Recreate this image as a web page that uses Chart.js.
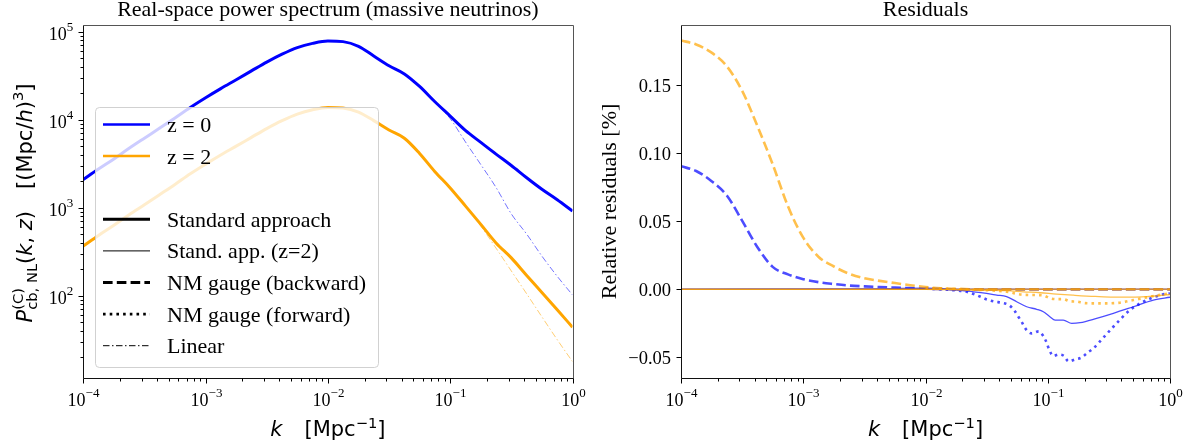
<!DOCTYPE html>
<html>
<head>
<meta charset="utf-8">
<script src="https://cdn.jsdelivr.net/npm/chart.js@4.4.1/dist/chart.umd.min.js"></script>
<style>
  html, body { margin: 0; padding: 0; background: #fff; }
  #wrap { position: relative; width: 1195px; height: 446px; overflow: hidden; }
  canvas { position: absolute; top: 0; }
</style>
</head>
<body>
<div id="wrap">
  <canvas id="left" width="600" height="446" style="left:0"></canvas>
  <canvas id="right" width="595" height="446" style="left:600px"></canvas>
</div>
<script>
// ------------------------------- DATA

// left panel: k in Mpc^-1, P in (Mpc/h)^3
var kGrid = [1.00e-4, 1.33e-4, 1.78e-4, 2.37e-4, 3.16e-4, 4.22e-4, 5.62e-4, 7.50e-4,
             1.00e-3, 1.33e-3, 1.78e-3, 2.37e-3, 3.16e-3, 4.22e-3, 5.62e-3, 7.50e-3,
             1.00e-2, 1.33e-2, 1.78e-2, 2.37e-2, 3.16e-2, 4.22e-2, 5.62e-2, 7.50e-2,
             0.100, 0.133, 0.178, 0.237, 0.316, 0.422, 0.562, 0.750, 1.00]
var pZ0 = [2090, 2750, 3590, 4730, 6170, 8040, 10500, 13800, 17800, 22600, 28500, 35900,
           45200, 55600, 66100, 73800, 78500, 77300, 68400, 53100, 41100, 33200, 23900,
           16000, 11000, 7570, 5530, 4070, 3020, 2190, 1620, 1230, 916]
var pZ0Lin = [2090, 2750, 3590, 4730, 6170, 8040, 10500, 13800, 17800, 22600, 28500, 35900,
              45200, 55600, 66100, 73800, 78500, 77300, 68400, 53100, 41100, 33200, 23900,
              15900, 10300, 5620, 3090, 1700, 851, 501, 282, 166, 102]
var pZ2 = [367, 484, 631, 832, 1080, 1410, 1840, 2430, 3130, 3980, 5010, 6310, 7940, 9770,
           11600, 13000, 13800, 13600, 12200, 9770, 7640, 6170, 4140, 2570, 1680, 1050,
           646, 398, 269, 170, 109, 69.2, 43.8]
var pZ2Lin = [367, 484, 631, 832, 1080, 1410, 1840, 2430, 3130, 3980, 5010, 6310, 7940, 9770,
              11600, 13000, 13800, 13600, 12200, 9770, 7640, 6170, 4140, 2570, 1680, 1050,
              617, 347, 191, 105, 57.5, 31.6, 17.8]

// right panel: relative residuals [%]
var kStd = [1e-4, 1]
var resStd = [0, 0]

var kBack = [1.00e-4, 1.33e-4, 1.78e-4, 2.37e-4, 3.16e-4, 4.22e-4, 5.62e-4, 7.50e-4,
             1.00e-3, 1.33e-3, 1.78e-3, 2.37e-3, 3.16e-3, 4.22e-3, 5.62e-3, 7.50e-3,
             1.00e-2, 1.33e-2, 1.78e-2, 2.37e-2, 3.16e-2, 0.100, 0.316, 1.00]
var resBackZ0 = [0.0905, 0.0870, 0.0795, 0.0690, 0.0505, 0.0310, 0.0165, 0.0110, 0.0075,
                 0.0053, 0.0039, 0.0028, 0.0022, 0.0017, 0.0013, 0.0009, 0.0005, 0.0002,
                 0, 0, 0, 0, 0, 0]
var resBackZ2 = [0.183, 0.180, 0.174, 0.164, 0.146, 0.120, 0.092, 0.061, 0.038, 0.024,
                 0.0168, 0.0115, 0.0081, 0.0062, 0.0046, 0.0030, 0.0017, 0.0008, 0.0004,
                 0.0001, 0, 0, 0, 0]

var kFwdZ0 = [0.0100, 0.0133, 0.0178, 0.0217, 0.0251, 0.0282, 0.0316, 0.0372, 0.0417,
              0.0479, 0.0530, 0.0575, 0.0617, 0.0664, 0.0740, 0.0843, 0.0920, 0.0979,
              0.103, 0.111, 0.122, 0.136, 0.148, 0.167, 0.190, 0.211, 0.236, 0.282,
              0.344, 0.471, 0.646, 0.881, 1.00]
var resFwdZ0 = [0.0005, 0, -0.0008, -0.0018, -0.0037, -0.0055, -0.0074, -0.0091, -0.0098,
                -0.0115, -0.0152, -0.0201, -0.0245, -0.0294, -0.0324, -0.0309, -0.0343,
                -0.0392, -0.0446, -0.0490, -0.0480, -0.0490, -0.0530, -0.0515, -0.0500,
                -0.0466, -0.0434, -0.0360, -0.0275, -0.0152, -0.0079, -0.0037, -0.0030]

var kFwdZ2 = [0.0100, 0.0178, 0.0251, 0.0297, 0.0461, 0.0631, 0.0813, 0.0920, 0.104,
              0.118, 0.134, 0.152, 0.173, 0.195, 0.222, 0.303, 0.390, 0.501, 0.646,
              0.881, 1.00]
var resFwdZ2 = [0.0010, 0.0002, -0.0003, -0.0005, -0.0018, -0.0040, -0.0042, -0.0045,
                -0.0065, -0.0072, -0.0072, -0.0088, -0.0090, -0.0100, -0.0103, -0.0103,
                -0.0098, -0.0079, -0.0059, -0.0037, -0.0030]

var kAppZ0 = [1e-4, 0.00316, 0.0100, 0.0133, 0.0178, 0.0247, 0.0316, 0.0382, 0.0461,
              0.0557, 0.0673, 0.0813, 0.0920, 0.104, 0.115, 0.134, 0.157, 0.184, 0.251,
              0.344, 0.501, 0.731, 1.00]
var resAppZ0 = [0, 0.0003, 0.0008, 0.0006, -0.0005, -0.0018, -0.0030, -0.0042, -0.0054,
                -0.0091, -0.0128, -0.0147, -0.0165, -0.0201, -0.0226, -0.0226, -0.0250,
                -0.0245, -0.0213, -0.0176, -0.0128, -0.0079, -0.0058]

var kAppZ2 = [1e-4, 0.0100, 0.0178, 0.0316, 0.0461, 0.0631, 0.0865, 0.118, 0.162, 0.244,
              0.344, 0.501, 0.646, 0.794, 1.00]
var resAppZ2 = [0, 0, -0.0003, -0.0007, -0.0010, -0.0018, -0.0025, -0.0035, -0.0043,
                -0.0052, -0.0057, -0.0057, -0.0053, -0.0047, -0.0038]

var xDecades = [-4, -3, -2, -1, 0]
var yDecadesLeft = [2, 3, 4, 5]
var yTicksRight = [-0.05, 0, 0.05, 0.10, 0.15]
var legendLabels = ['z = 0', 'z = 2', '', 'Standard approach', 'Stand. app. (z=2)',
                    'NM gauge (backward)', 'NM gauge (forward)', 'Linear']

// ------------------------------- HELPERS

var SERIF = '"Liberation Serif", "Times New Roman", serif'
var SANS = '"DejaVu Sans", sans-serif'
var BLUE = '#0000ff'
var ORANGE = '#ffa500'
var BLUE_A = 'rgba(0,0,255,0.7)'
var ORANGE_A = 'rgba(255,165,0,0.7)'
var DASH = [9.6, 4.2]
var DOT = [2.6, 4.1]
var DASHDOT = [6.5, 2.5, 1.5, 2.5]

function pts(ks, vs) {
    return ks.map(function (k, i) { return { x: k, y: vs[i] } })
}

function line(data, color, width, dash) {
    return {
        data: data,
        borderColor: color,
        borderWidth: width,
        borderDash: dash || [],
        borderCapStyle: 'butt',
        borderJoinStyle: 'round',
        pointRadius: 0,
        fill: false,
        cubicInterpolationMode: 'monotone'
    }
}

// draws a row of text pieces, pieces: {t, font, dy, keep}
function richWidth(ctx, parts) {
    var w = 0, kept = 0
    parts.forEach(function (p) {
        if (p.gap) { w += p.gap; return }
        ctx.font = p.font
        var pw = ctx.measureText(p.t).width
        if (p.keep) { kept = pw; return }
        w += Math.max(pw, kept)
        kept = 0
    })
    return w
}

function richDraw(ctx, x0, y, parts) {
    var x = x0, kept = 0
    ctx.textAlign = 'left'
    ctx.textBaseline = 'alphabetic'
    parts.forEach(function (p) {
        if (p.gap) { x += p.gap; return }
        ctx.font = p.font
        var pw = ctx.measureText(p.t).width
        ctx.fillText(p.t, x, y + (p.dy || 0))
        if (p.keep) { kept = pw; return }
        x += Math.max(pw, kept)
        kept = 0
    })
}

function richCentered(ctx, cx, y, parts) {
    richDraw(ctx, cx - richWidth(ctx, parts) / 2, y, parts)
}

function powLabel(ctx, x, y, exp, align) {
    var parts = [
        { t: '10', font: '18px ' + SERIF },
        { t: (exp < 0 ? '\u2212' : '') + Math.abs(exp), font: '13px ' + SERIF, dy: -9 }
    ]
    var w = richWidth(ctx, parts)
    var x0 = align == 'right' ? x - w : x - w / 2
    richDraw(ctx, x0, y, parts)
}

function kLabelParts() {
    return [
        { t: 'k', font: 'italic 21px ' + SANS },
        { gap: 22 },
        { t: '[Mpc', font: '21px ' + SANS },
        { t: '\u22121', font: '14.7px ' + SANS, dy: -8.5 },
        { t: ']', font: '21px ' + SANS }
    ]
}

function frameAndXTicks(ctx, chart) {
    var a = chart.chartArea, xs = chart.scales.x
    var l = Math.round(a.left) + 0.5, t = Math.round(a.top) + 0.5
    var r = Math.round(a.right) + 0.5, b = Math.round(a.bottom) + 0.5
    ctx.lineWidth = 1
    ctx.setLineDash([])
    // top / right spines look a bit lighter in the original
    ctx.strokeStyle = '#555'
    ctx.beginPath(); ctx.moveTo(l, t); ctx.lineTo(r, t); ctx.lineTo(r, b); ctx.stroke()
    ctx.strokeStyle = '#111'
    ctx.beginPath(); ctx.moveTo(l, t); ctx.lineTo(l, b); ctx.lineTo(r, b); ctx.stroke()
    ctx.fillStyle = '#000'
    ctx.strokeStyle = '#000'
    xDecades.forEach(function (d) {
        var px = Math.round(xs.getPixelForValue(Math.pow(10, d))) + 0.5
        ctx.beginPath(); ctx.moveTo(px, b); ctx.lineTo(px, b + 5); ctx.stroke()
        powLabel(ctx, px, a.bottom + 28, d, 'center')
        if (d < 0) {
            for (var m = 2; m <= 9; m++) {
                var mx = Math.round(xs.getPixelForValue(m * Math.pow(10, d))) + 0.5
                ctx.beginPath(); ctx.moveTo(mx, b); ctx.lineTo(mx, b + 3); ctx.stroke()
            }
        }
    })
    richCentered(ctx, (a.left + a.right) / 2, a.bottom + 58, kLabelParts())
}

// ------------------------------- PLUGINS

var leftAxes = {
    id: 'leftAxes',
    afterDraw: function (chart) {
        var ctx = chart.ctx, a = chart.chartArea, ys = chart.scales.y
        ctx.save()
        frameAndXTicks(ctx, chart)
        var xl = Math.round(a.left) + 0.5
        yDecadesLeft.forEach(function (d) {
            var py = Math.round(ys.getPixelForValue(Math.pow(10, d))) + 0.5
            ctx.beginPath(); ctx.moveTo(xl, py); ctx.lineTo(xl - 5, py); ctx.stroke()
            powLabel(ctx, a.left - 10, py + 7, d, 'right')
        })
        for (var d = 1; d <= 5; d++) {
            for (var m = 2; m <= 9; m++) {
                var v = m * Math.pow(10, d)
                if (v < ys.min || v > ys.max) continue
                var my = Math.round(ys.getPixelForValue(v)) + 0.5
                ctx.beginPath(); ctx.moveTo(xl, my); ctx.lineTo(xl - 3, my); ctx.stroke()
            }
        }
        // title
        ctx.font = '22px ' + SERIF
        ctx.textAlign = 'center'
        ctx.fillText('Real-space power spectrum (massive neutrinos)', (a.left + a.right) / 2, a.top - 8.5)
        // y label
        ctx.translate(32, 203)
        ctx.rotate(-Math.PI / 2)
        var it = 'italic 21px ' + SANS, rm = '21px ' + SANS, sc = '14.7px ' + SANS
        richCentered(ctx, 0, 0, [
            { t: 'P', font: it },
            { t: '(C)', font: sc, dy: -9.5, keep: true },
            { t: 'cb, NL', font: sc, dy: 5 },
            { t: '(', font: rm }, { t: 'k', font: it }, { t: ', ', font: rm },
            { t: 'z', font: it }, { t: ')', font: rm },
            { gap: 22 },
            { t: '[(Mpc/', font: rm }, { t: 'h', font: it }, { t: ')', font: rm },
            { t: '3', font: sc, dy: -9.5 }, { t: ']', font: rm }
        ])
        ctx.restore()
    }
}

var leftLegend = {
    id: 'leftLegend',
    afterDatasetsDraw: function (chart) {
        var ctx = chart.ctx
        var bx = 95, by = 107, bw = 283, bh = 260
        var styles = [
            { c: BLUE, w: 2.5, d: [] }, { c: ORANGE, w: 2.5, d: [] }, null,
            { c: '#000', w: 3, d: [] }, { c: '#000', w: 1, d: [] },
            { c: '#000', w: 3, d: DASH }, { c: '#000', w: 2.6, d: DOT },
            { c: '#000', w: 1, d: DASHDOT }
        ]
        ctx.save()
        ctx.beginPath()
        ctx.roundRect(bx + 0.5, by + 0.5, bw, bh, 4)
        ctx.fillStyle = 'rgba(255,255,255,0.8)'
        ctx.fill()
        ctx.strokeStyle = 'rgba(204,204,204,0.9)'
        ctx.lineWidth = 1
        ctx.stroke()
        legendLabels.forEach(function (lab, i) {
            var st = styles[i]
            if (!st) return
            var y = by + 17.5 + i * 31.6
            ctx.beginPath()
            ctx.strokeStyle = st.c
            ctx.lineWidth = st.w
            ctx.lineCap = 'butt'
            ctx.setLineDash(st.d)
            ctx.moveTo(103, y)
            ctx.lineTo(150, y)
            ctx.stroke()
            ctx.setLineDash([])
            ctx.fillStyle = '#000'
            ctx.font = '22px ' + SERIF
            ctx.textAlign = 'left'
            ctx.textBaseline = 'alphabetic'
            ctx.fillText(lab, 167, y + 7.5)
        })
        ctx.restore()
    }
}

var rightAxes = {
    id: 'rightAxes',
    afterDraw: function (chart) {
        var ctx = chart.ctx, a = chart.chartArea, ys = chart.scales.y
        ctx.save()
        frameAndXTicks(ctx, chart)
        var xl = Math.round(a.left) + 0.5
        ctx.font = '18.5px ' + SERIF
        yTicksRight.forEach(function (v) {
            var py = Math.round(ys.getPixelForValue(v)) + 0.5
            ctx.beginPath(); ctx.moveTo(xl, py); ctx.lineTo(xl - 5, py); ctx.stroke()
            var s = Math.abs(v).toFixed(2)
            if (v < 0) s = '\u2212' + s
            ctx.textAlign = 'right'
            ctx.textBaseline = 'alphabetic'
            ctx.fillText(s, a.left - 10, py + 6.5)
        })
        ctx.font = '22px ' + SERIF
        ctx.textAlign = 'center'
        ctx.fillText('Residuals', (a.left + a.right) / 2, a.top - 8.5)
        ctx.translate(16, (a.top + a.bottom) / 2)
        ctx.rotate(-Math.PI / 2)
        ctx.fillText('Relative residuals [%]', 0, 0)
        ctx.restore()
    }
}

// ------------------------------- CHARTS

function baseOptions(pad, ymin, ymax, ytype) {
    return {
        responsive: false,
        animation: false,
        events: [],
        layout: { padding: pad },
        plugins: { legend: { display: false }, tooltip: { enabled: false } },
        elements: { point: { radius: 0 } },
        scales: {
            x: { type: 'logarithmic', min: 1e-4, max: 1, bounds: 'data', display: false },
            y: { type: ytype, min: ymin, max: ymax, bounds: 'data', display: false }
        }
    }
}

new Chart(document.getElementById('left'), {
    type: 'line',
    data: {
        datasets: [
            line(pts(kGrid, pZ0), BLUE, 3),
            line(pts(kGrid, pZ2), ORANGE, 3),
            line(pts(kGrid, pZ0Lin), 'rgba(0,0,255,0.55)', 1, DASHDOT),
            line(pts(kGrid, pZ2Lin), 'rgba(255,165,0,0.55)', 1, DASHDOT)
        ]
    },
    options: baseOptions({ left: 83.3, right: 27.5, top: 24.5, bottom: 67.7 }, 11.5, 1.21e5, 'logarithmic'),
    plugins: [leftLegend, leftAxes]
})

new Chart(document.getElementById('right'), {
    type: 'line',
    data: {
        datasets: [
            // orange (drawn last, on top)
            line(pts(kFwdZ2, resFwdZ2), ORANGE_A, 2.6, DOT),
            line(pts(kBack, resBackZ2), ORANGE_A, 2.6, DASH),
            line(pts(kAppZ2, resAppZ2), ORANGE_A, 1.3),
            line(pts(kStd, resStd), ORANGE_A, 1.5),
            // blue
            line(pts(kFwdZ0, resFwdZ0), BLUE_A, 2.6, DOT),
            line(pts(kBack, resBackZ0), BLUE_A, 2.6, DASH),
            line(pts(kAppZ0, resAppZ0), BLUE_A, 1.3),
            line(pts(kStd, resStd), BLUE_A, 1.5)
        ]
    },
    options: baseOptions({ left: 81, right: 25, top: 24.5, bottom: 67.7 }, -0.0654, 0.1947, 'linear'),
    plugins: [rightAxes]
})
</script>
</body>
</html>
